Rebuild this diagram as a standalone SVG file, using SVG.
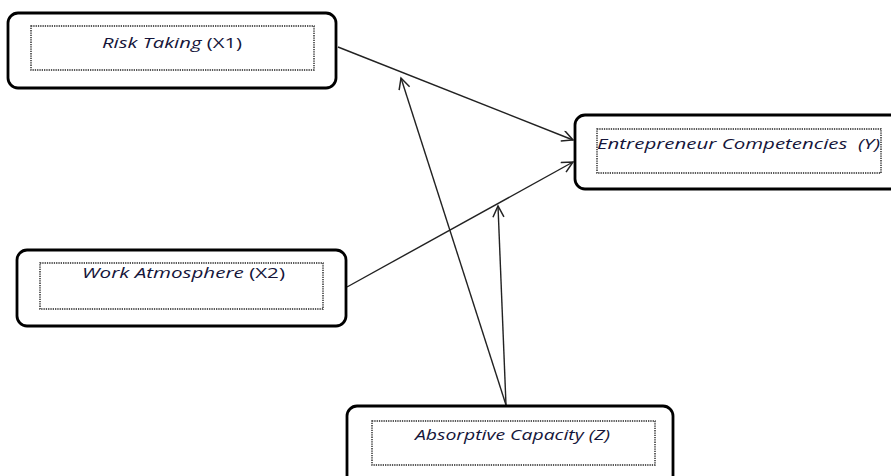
<svg xmlns="http://www.w3.org/2000/svg" width="891" height="476" viewBox="0 0 891 476">
  <style>
    .outer { fill: #ffffff; stroke: #000000; stroke-width: 2.8; }
    .inner { fill: none; stroke: #222222; stroke-width: 1.4; stroke-dasharray: 1.3 1; }
    .lbl { font-family: "Open Sans", "Noto Sans", sans-serif; font-size: 15px; fill: #15153a; white-space: pre; }
    .it { font-style: italic; }
    .conn { stroke: #222222; stroke-width: 1.4; fill: none; marker-end: url(#arr); }
  </style>
  <defs>
    <marker id="arr" markerUnits="userSpaceOnUse" markerWidth="16" markerHeight="16" refX="12" refY="6" orient="auto">
      <path d="M1,0.5 L12,6 L1,11.5" fill="none" stroke="#222222" stroke-width="1.5"/>
    </marker>
  </defs>
  <rect width="891" height="476" fill="#ffffff"/>

  <g id="connectors">
    <line class="conn" x1="338" y1="47" x2="573" y2="140"/>
    <line class="conn" x1="347" y1="287" x2="573" y2="162"/>
    <line class="conn" x1="506" y1="405" x2="401" y2="78"/>
    <line class="conn" x1="506" y1="405" x2="498" y2="206"/>
  </g>

  <g id="risk-taking">
    <rect class="outer" x="8" y="13" width="328" height="75" rx="10"/>
    <rect class="inner" x="31" y="26" width="283" height="44"/>
    <text class="lbl" x="102" y="48" textLength="140" lengthAdjust="spacingAndGlyphs"><tspan class="it">Risk Taking</tspan> (X1)</text>
  </g>

  <g id="entrepreneur-competencies">
    <rect class="outer" x="575" y="115" width="330" height="74" rx="10"/>
    <rect class="inner" x="597" y="129" width="284" height="44"/>
    <text class="lbl it" x="597" y="149" textLength="283" lengthAdjust="spacingAndGlyphs">Entrepreneur Competencies  (Y)</text>
  </g>

  <g id="work-atmosphere">
    <rect class="outer" x="17" y="250" width="329" height="76" rx="10"/>
    <rect class="inner" x="40" y="263" width="283" height="46"/>
    <text class="lbl" x="82" y="278" textLength="203" lengthAdjust="spacingAndGlyphs"><tspan class="it">Work Atmosphere</tspan> (X2)</text>
  </g>

  <g id="absorptive-capacity">
    <rect class="outer" x="347" y="406" width="326" height="80" rx="10"/>
    <rect class="inner" x="372" y="421" width="283" height="44"/>
    <text class="lbl it" x="415" y="440" textLength="195" lengthAdjust="spacingAndGlyphs">Absorptive Capacity (Z)</text>
  </g>
</svg>
